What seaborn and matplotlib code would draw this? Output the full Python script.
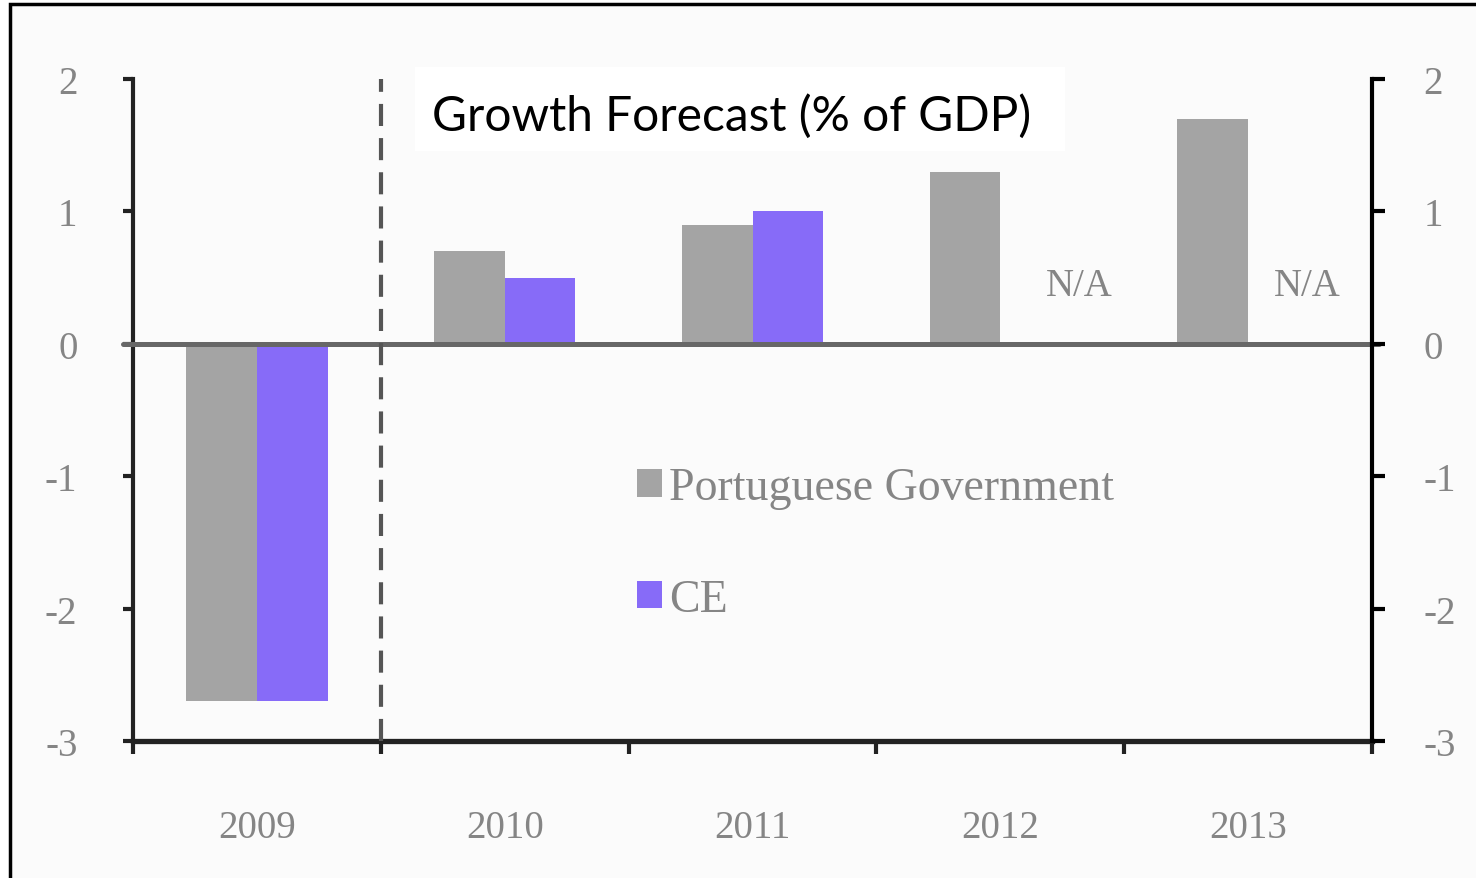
import pandas as pd
import matplotlib.pyplot as plt
import seaborn as sns
from matplotlib.patches import Rectangle

# ---- data ----
years = ['2009', '2010', '2011', '2012', '2013']
gov_growth = [-2.7, 0.7, 0.9, 1.3, 1.7]
ce_growth = [-2.7, 0.5, 1.0, None, None]
na_years = ['2012', '2013']
na_offsets = [0.32, 0.24]
y_ticks = [-3, -2, -1, 0, 1, 2]

df = pd.DataFrame({
    'year': years * 2,
    'value': gov_growth + ce_growth,
    'source': ['Portuguese Government'] * 5 + ['CE'] * 5,
})

sns.set_style('white')
plt.rcParams['font.family'] = ['Liberation Serif', 'DejaVu Serif']

gray = '#A4A4A4'
purple = '#876BF8'
label_col = '#858585'

fig = plt.figure(figsize=(14.76, 8.79), dpi=100, facecolor='white')
# outer frame (only top and left edges visible in the crop)
fig.patches.append(Rectangle((10 / 1476, -0.1), 1.2, 874 / 879 + 0.1, transform=fig.transFigure,
                             facecolor='#FBFBFB', edgecolor='black', linewidth=2.5, zorder=-10))

ax = fig.add_axes([133 / 1476, 137 / 879, 1239 / 1476, 662 / 879])
ax.set_facecolor('none')

sns.barplot(data=df, x='year', y='value', hue='source', palette=[gray, purple],
            width=0.57, errorbar=None, saturation=1, ax=ax, zorder=2,
            linewidth=0, edgecolor='none')

ax.set_xlim(-0.5, 4.5)
ax.set_ylim(-3, 2)
ax.set_xlabel('')
ax.set_ylabel('')

# spines
ax.spines['top'].set_visible(False)
ax.spines['right'].set_visible(False)
ax.spines['left'].set_linewidth(3)
ax.spines['left'].set_color('#222222')
ax.spines['bottom'].set_linewidth(3.8)
ax.spines['bottom'].set_color('#222222')

# y ticks
ax.set_yticks(y_ticks)
ax.set_yticklabels([str(t) for t in y_ticks])
ax.tick_params(axis='y', which='major', left=True, length=7, width=3, color='#222222',
               direction='out', pad=33, labelsize=28, labelcolor=label_col)

# x: labels at centres, tick marks at category boundaries
ax.set_xticks(range(len(years)))
ax.set_xticklabels(years)
ax.set_xticks([i - 0.5 for i in range(len(years) + 1)], minor=True)
ax.tick_params(axis='x', which='major', length=0, pad=49, labelsize=28, labelcolor=label_col)
ax.tick_params(axis='x', which='minor', bottom=True, length=9, width=3, color='#222222', direction='out')

# right-hand copy of the y axis
ax2 = ax.twinx()
ax2.set_ylim(-3, 2)
ax2.set_yticks(y_ticks)
ax2.set_yticklabels([str(t) for t in y_ticks])
for s in ['top', 'left', 'bottom']:
    ax2.spines[s].set_visible(False)
ax2.spines['right'].set_linewidth(3)
ax2.spines['right'].set_color('black')
ax2.tick_params(axis='y', right=True, length=9, width=3, color='black', direction='out',
                pad=28, labelsize=28, labelcolor=label_col)

# zero line and the dashed divider between actual and forecast
ax.axhline(0, xmin=-0.008, xmax=1.006, color='#676767', linewidth=3.6, zorder=3, clip_on=False)
ax.axvline(0.5, ymin=0, ymax=1.0, color='#555555', linewidth=3,
           linestyle=(0, (5.3, 2.9)), zorder=3)

# N/A notes where CE has no forecast
for yr, off in zip(na_years, na_offsets):
    ax.text(years.index(yr) + off, 0.44, 'N/A', ha='center', va='center',
            fontsize=28, color=label_col)

# legend
handles, labels = ax.get_legend_handles_labels()
ax.legend(handles, labels, loc='upper left', bbox_to_anchor=(637 / 1476, 1 - 468 / 879),
          bbox_transform=fig.transFigure, frameon=False, fontsize=33, labelcolor=label_col,
          handlelength=0.55, handleheight=0.55, handletextpad=0.15, labelspacing=1.5,
          borderpad=0, borderaxespad=0)

# title on a white box
fig.patches.append(Rectangle((415 / 1476, 1 - 152 / 879), 650 / 1476, 84 / 879,
                             transform=fig.transFigure, facecolor='white', edgecolor='none', zorder=-5))
fig.text(432 / 1476, 1 - 117 / 879, 'Growth Forecast (% of GDP)', ha='left', va='center',
         fontsize=34.5, color='black', family=['Lato', 'DejaVu Sans'])

plt.savefig('out.png', dpi=100, facecolor=fig.get_facecolor())
